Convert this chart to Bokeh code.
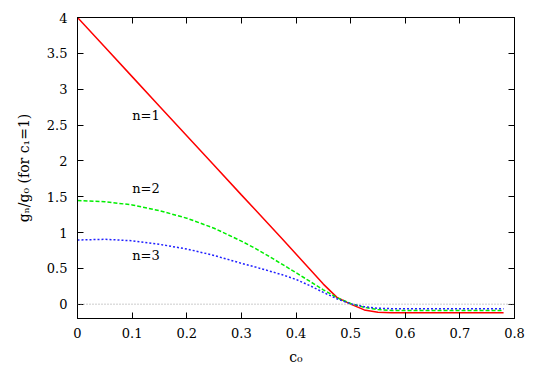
from bokeh.plotting import figure
from bokeh.models import LinearAxis, FixedTicker, Span, Range1d
from bokeh.core.properties import value
from bokeh.embed import file_html
from bokeh.resources import INLINE

# ---- data ----
c0 = [0.0, 0.05, 0.1, 0.15, 0.2, 0.25, 0.3, 0.325, 0.35, 0.375, 0.4, 0.425,
      0.45, 0.475, 0.5, 0.525, 0.55, 0.575, 0.6, 0.7, 0.78]
g_n1 = [4.0, 3.5875, 3.175, 2.7625, 2.35, 1.9375, 1.525, 1.32, 1.115, 0.91, 0.70, 0.49,
        0.28, 0.095, 0.0, -0.08, -0.113, -0.119, -0.12, -0.12, -0.12]
g_n2 = [1.445, 1.43, 1.385, 1.305, 1.20, 1.06, 0.88, 0.78, 0.67, 0.555, 0.44, 0.32,
        0.20, 0.09, 0.01, -0.045, -0.075, -0.087, -0.09, -0.09, -0.09]
g_n3 = [0.895, 0.905, 0.885, 0.835, 0.77, 0.68, 0.57, 0.52, 0.465, 0.41, 0.345, 0.26,
        0.165, 0.075, 0.005, -0.035, -0.057, -0.063, -0.065, -0.065, -0.065]

label_text = ["n=1", "n=2", "n=3"]
label_x = [0.10, 0.10, 0.10]
label_y = [2.63, 1.62, 0.68]

x_ticks = [0, 0.1, 0.2, 0.3, 0.4, 0.5, 0.6, 0.7, 0.8]
x_tick_labels = ["0", "0.1", "0.2", "0.3", "0.4", "0.5", "0.6", "0.7", "0.8"]
y_ticks = [0, 0.5, 1, 1.5, 2, 2.5, 3, 3.5, 4]
y_tick_labels = ["0", "0.5", "1", "1.5", "2", "2.5", "3", "3.5", "4"]

FONT = "DejaVu Serif"

p = figure(width=540, height=378, output_backend="svg", toolbar_location=None,
           x_range=Range1d(0, 0.8), y_range=Range1d(-0.2, 4.0),
           min_border_left=77, min_border_right=26, min_border_top=17,
           min_border_bottom=60)
p.background_fill_color = "white"
p.border_fill_color = "white"
p.grid.visible = False
p.outline_line_color = "black"
p.outline_line_width = 1

p.add_layout(Span(location=0, dimension="width", line_color="#999999",
                  line_dash="1 2", line_width=1))

p.line(c0, g_n1, line_color="#ff0000", line_width=1.5)
p.line(c0, g_n2, line_color="#00ee00", line_width=1.5, line_dash="4 2")
p.line(c0, g_n3, line_color="#2020ff", line_width=1.5, line_dash="2 2")

p.text(x=label_x, y=label_y, text=label_text, text_font=value(FONT),
       text_font_size="13px", text_color="black", text_baseline="middle",
       text_align="left")

def style_axis(ax, ticks, labels, show_labels):
    ax.ticker = FixedTicker(ticks=ticks)
    ax.axis_line_color = "black"
    ax.major_tick_in = 6
    ax.major_tick_out = 0
    ax.minor_tick_line_color = None
    ax.major_tick_line_color = "black"
    if show_labels:
        ax.major_label_overrides = {t: l for t, l in zip(ticks, labels)}
        ax.major_label_text_font = FONT
        ax.major_label_text_font_size = "13px"
        ax.major_label_text_color = "black"
    else:
        ax.major_label_overrides = {t: "" for t in ticks}
        ax.major_label_text_color = None
        ax.major_label_standoff = 0

xa = p.xaxis[0]
ya = p.yaxis[0]
style_axis(xa, x_ticks, x_tick_labels, True)
style_axis(ya, y_ticks, y_tick_labels, True)
xa.major_label_standoff = 9
ya.major_label_standoff = 10

xa.axis_label = "c₀"
ya.axis_label = "gₙ/g₀ (for c₁=1)"
for ax in (xa, ya):
    ax.axis_label_text_font = FONT
    ax.axis_label_text_font_size = "14px"
    ax.axis_label_text_font_style = "normal"
    ax.axis_label_text_color = "black"
xa.axis_label_standoff = 8
ya.axis_label_standoff = 12

ra = LinearAxis()
style_axis(ra, y_ticks, y_tick_labels, False)
p.add_layout(ra, "right")
ta = LinearAxis()
style_axis(ta, x_ticks, x_tick_labels, False)
p.add_layout(ta, "above")

open("out.html", "w").write(file_html(p, INLINE))
